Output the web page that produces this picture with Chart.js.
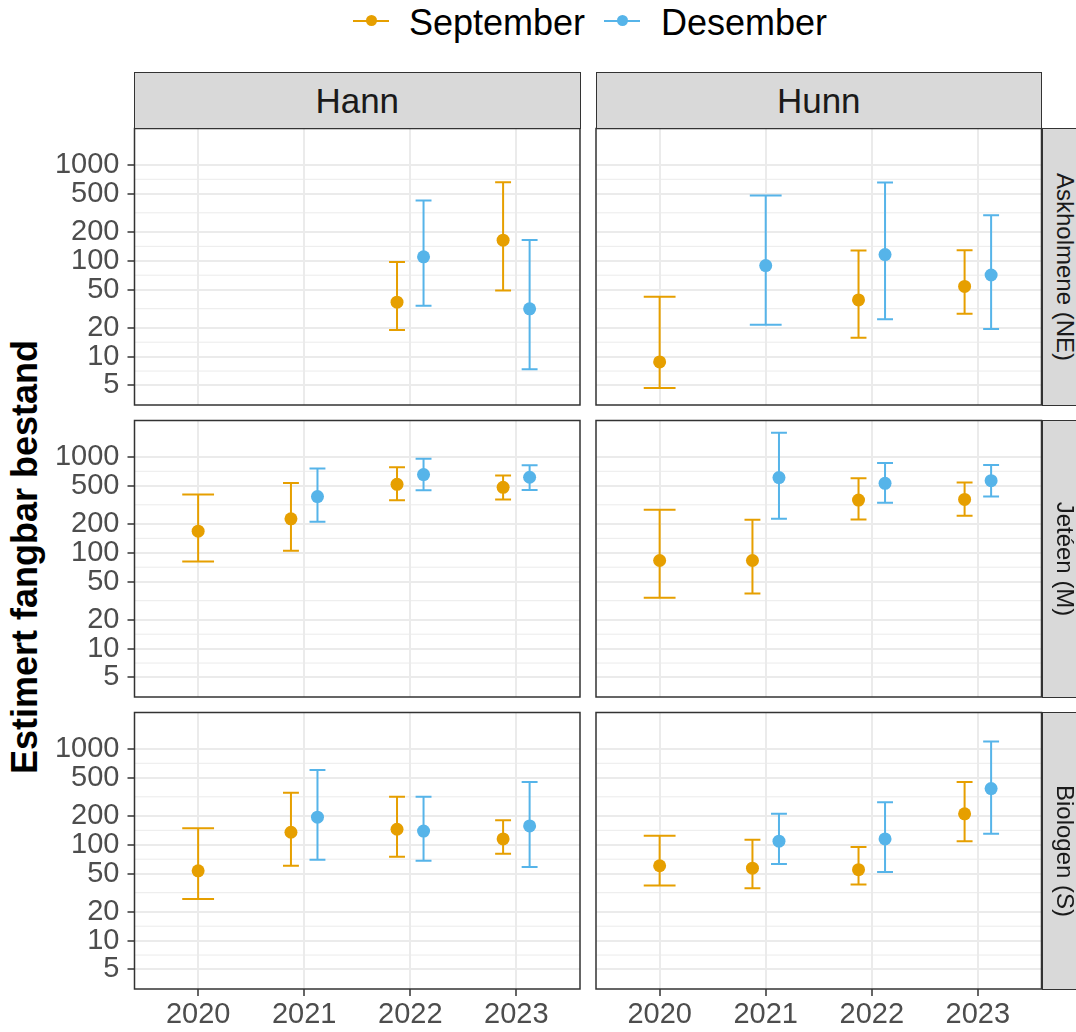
<!DOCTYPE html>
<html>
<head>
<meta charset="utf-8">
<script src="https://cdn.jsdelivr.net/npm/chart.js@4.4.1/dist/chart.umd.min.js"></script>
<style>
  body { margin: 0; width: 1076px; height: 1032px; overflow: hidden; background: #fff; position: relative;
         font-family: "Liberation Sans", Arial, sans-serif; }
  canvas { position: absolute; }
  .strip { position: absolute; box-sizing: border-box; background: #D9D9D9; border: 1px solid #333; color: #1A1A1A; }
  .strip-top { display: flex; align-items: center; justify-content: center; font-size: 35px; line-height: 1; }
  .strip-right span { position: absolute; left: 22px; top: 50%; font-size: 24px; line-height: 1; white-space: nowrap;
                      transform: translate(-50%, -50%) rotate(90deg); }
  .ytitle { position: absolute; left: 25px; top: 557px; font-size: 36px; font-weight: bold; line-height: 1;
            white-space: nowrap; transform: translate(-50%, -50%) rotate(-90deg); color: #000; }
  .lg-line { position: absolute; height: 2px; }
  .lg-dot { position: absolute; width: 11px; height: 11px; border-radius: 50%; }
  .lg-txt { position: absolute; top: 4.5px; font-size: 36px; line-height: 1; color: #000; white-space: nowrap; }
</style>
</head>
<body>
<div class="ytitle">Estimert fangbar bestand</div>
<script>
const years = ['2020', '2021', '2022', '2023'];
const months = ['September', 'Desember'];
const sexes = ['Hann', 'Hunn'];
const sites = ['Askholmene (NE)', 'Jetéen (M)', 'Biologen (S)'];
const yTicks = [5, 10, 20, 50, 100, 200, 500, 1000];

// [estimate, lower, upper] per year, null where there was no estimate
const askHannSep = [null, null, [37, 19, 97], [164, 49, 659]];
const askHannDes = [null, null, [110, 34, 424], [31.5, 7.4, 165]];
const askHunnSep = [[8.8, 4.7, 42], null, [39, 15.7, 128], [54, 28, 129]];
const askHunnDes = [null, [89, 21.5, 478], [116, 24.5, 653], [71, 19.4, 299]];
const jetHannSep = [[168, 81, 406], [226, 105, 534], [517, 352, 780], [481, 360, 638]];
const jetHannDes = [null, [385, 210, 755], [653, 448, 953], [613, 451, 818]];
const jetHunnSep = [[83, 34, 281], [83, 37.5, 221], [354, 222, 598], [360, 243, 539]];
const jetHunnDes = [null, [608, 226, 1786], [530, 333, 865], [565, 387, 824]];
const bioHannSep = [[53.5, 27.2, 149], [135, 60.4, 349], [145, 75, 317], [115, 80.7, 180]];
const bioHannDes = [null, [194, 69.8, 603], [139, 68, 317], [157, 58.5, 451]];
const bioHunnSep = [[60.4, 37.5, 124], [57, 35.2, 113], [55, 38.5, 95], [210, 109, 451]];
const bioHunnDes = [null, [109, 63, 210], [115, 51.9, 278], [385, 130, 1197]];

const panels = [
  [[askHannSep, askHannDes], [askHunnSep, askHunnDes]],
  [[jetHannSep, jetHannDes], [jetHunnSep, jetHunnDes]],
  [[bioHannSep, bioHannDes], [bioHunnSep, bioHunnDes]]
];

const colors = ['#E69F00', '#56B4E9'];
const font = '"Liberation Sans", Arial, sans-serif';
const rowTop = [128.5, 420.5, 712.5];
const colLeft = [134.5, 596];
const panelW = 445.5, panelH = 276.5;
const yMin = 3.13, yMax = 2395;

// light lines halfway (in log space) between the labelled breaks
const minorTicks = yTicks.slice(1).map((v, i) => Math.sqrt(v * yTicks[i]));

const panelDecor = {
  id: 'panelDecor',
  beforeDatasetsDraw(chart) {
    const { ctx, chartArea: a, scales: { x, y } } = chart;
    ctx.save();
    ctx.strokeStyle = '#EBEBEB';
    ctx.lineWidth = 1;
    minorTicks.forEach(v => {
      const py = y.getPixelForValue(v);
      ctx.beginPath(); ctx.moveTo(a.left, py); ctx.lineTo(a.right, py); ctx.stroke();
    });
    // error bars
    ctx.lineWidth = 2;
    chart.data.datasets.forEach(ds => {
      ctx.strokeStyle = ds.backgroundColor;
      ds.bars.forEach(b => {
        const px = x.getPixelForValue(b.x);
        const hw = x.getPixelForValue(b.x + b.half) - px;
        const yl = y.getPixelForValue(b.lo), yh = y.getPixelForValue(b.hi);
        ctx.beginPath();
        ctx.moveTo(px, yl); ctx.lineTo(px, yh);
        ctx.moveTo(px - hw, yh); ctx.lineTo(px + hw, yh);
        ctx.moveTo(px - hw, yl); ctx.lineTo(px + hw, yl);
        ctx.stroke();
      });
    });
    ctx.restore();
  },
  afterDraw(chart) {
    const { ctx, chartArea: a } = chart;
    ctx.save();
    ctx.strokeStyle = '#333333';
    ctx.lineWidth = 1.5;
    ctx.strokeRect(a.left, a.top, a.right - a.left, a.bottom - a.top);
    ctx.restore();
  }
};

function buildSets(pair) {
  return pair.map((series, k) => {
    const other = pair[1 - k];
    const pts = [], bars = [];
    series.forEach((e, i) => {
      if (!e) return;
      const dodged = other[i] != null;
      const xv = i + (dodged ? (k === 0 ? -0.125 : 0.125) : 0);
      pts.push({ x: xv, y: e[0] });
      bars.push({ x: xv, lo: e[1], hi: e[2], half: dodged ? 0.075 : 0.15 });
    });
    return {
      label: months[k], data: pts, bars: bars,
      backgroundColor: colors[k], borderWidth: 0,
      pointRadius: 6.5, pointHoverRadius: 6.5
    };
  });
}

function makePanel(r, c) {
  const bottomRow = r === 2, leftCol = c === 0;
  const cvLeft = leftCol ? 0 : 590;
  const cvTop = Math.floor(rowTop[r]) - 4;
  const padTop = rowTop[r] - cvTop;
  const areaRight = colLeft[c] + panelW - cvLeft;
  const cvW = Math.ceil(areaRight + 4);
  const xAxisH = bottomRow ? 48 : 0;
  const cvH = Math.ceil(padTop + panelH + (bottomRow ? xAxisH : 4));

  const cv = document.createElement('canvas');
  cv.width = cvW; cv.height = cvH;
  cv.style.left = cvLeft + 'px'; cv.style.top = cvTop + 'px';
  document.body.appendChild(cv);

  new Chart(cv, {
    type: 'scatter',
    data: { datasets: buildSets(panels[r][c]) },
    options: {
      responsive: false,
      animation: false,
      events: [],
      layout: {
        autoPadding: false,
        padding: { left: 0, top: padTop, right: cvW - areaRight,
                   bottom: cvH - padTop - panelH - xAxisH }
      },
      plugins: { legend: { display: false }, tooltip: { enabled: false } },
      scales: {
        x: {
          type: 'linear', min: -0.6, max: 3.6, bounds: 'data',
          afterBuildTicks: s => { s.ticks = years.map((_, i) => ({ value: i })); },
          afterFit: s => { s.height = xAxisH; s.paddingLeft = 0; s.paddingRight = 0; },
          ticks: { display: bottomRow, autoSkip: false, maxRotation: 0, padding: 2,
                   callback: v => years[v], color: '#4D4D4D', font: { size: 29, family: font } },
          grid: { color: '#EBEBEB', lineWidth: 2, drawTicks: bottomRow, tickLength: 7,
                  tickColor: '#333333', tickWidth: 1.5 },
          border: { display: false }
        },
        y: {
          type: 'logarithmic', min: yMin, max: yMax, bounds: 'data',
          afterBuildTicks: s => { s.ticks = yTicks.map(v => ({ value: v })); },
          afterFit: s => { s.width = colLeft[c] - cvLeft; s.paddingTop = 0; s.paddingBottom = 0; },
          ticks: { display: leftCol, autoSkip: false, padding: 8,
                   callback: v => String(v), color: '#4D4D4D', font: { size: 29, family: font } },
          grid: { color: '#EBEBEB', lineWidth: 2, drawTicks: leftCol, tickLength: 7,
                  tickColor: '#333333', tickWidth: 1.5 },
          border: { display: false }
        }
      }
    },
    plugins: [panelDecor]
  });
}

for (let r = 0; r < 3; r++) {
  for (let c = 0; c < 2; c++) makePanel(r, c);
}

// facet strips
sexes.forEach((s, c) => {
  const d = document.createElement('div');
  d.className = 'strip strip-top';
  d.style.left = (colLeft[c] - 0.5) + 'px';
  d.style.top = '72px';
  d.style.width = (panelW + 1) + 'px';
  d.style.height = '57px';
  d.textContent = s;
  document.body.appendChild(d);
});
sites.forEach((s, r) => {
  const d = document.createElement('div');
  d.className = 'strip strip-right';
  d.style.left = '1041.5px';
  d.style.top = (rowTop[r] - 0.5) + 'px';
  d.style.width = '60px';
  d.style.height = (panelH + 1) + 'px';
  const t = document.createElement('span');
  t.textContent = s;
  d.appendChild(t);
  document.body.appendChild(d);
});

// legend
const keyLeft = [353, 604], textLeft = [409, 661];
months.forEach((m, k) => {
  const line = document.createElement('div');
  line.className = 'lg-line';
  line.style.cssText = `left:${keyLeft[k]}px;top:19.8px;width:36px;background:${colors[k]}`;
  const dot = document.createElement('div');
  dot.className = 'lg-dot';
  dot.style.cssText = `left:${keyLeft[k] + 12.5}px;top:15.3px;background:${colors[k]}`;
  const txt = document.createElement('div');
  txt.className = 'lg-txt';
  txt.style.left = textLeft[k] + 'px';
  txt.textContent = m;
  document.body.append(line, dot, txt);
});
</script>
</body>
</html>
